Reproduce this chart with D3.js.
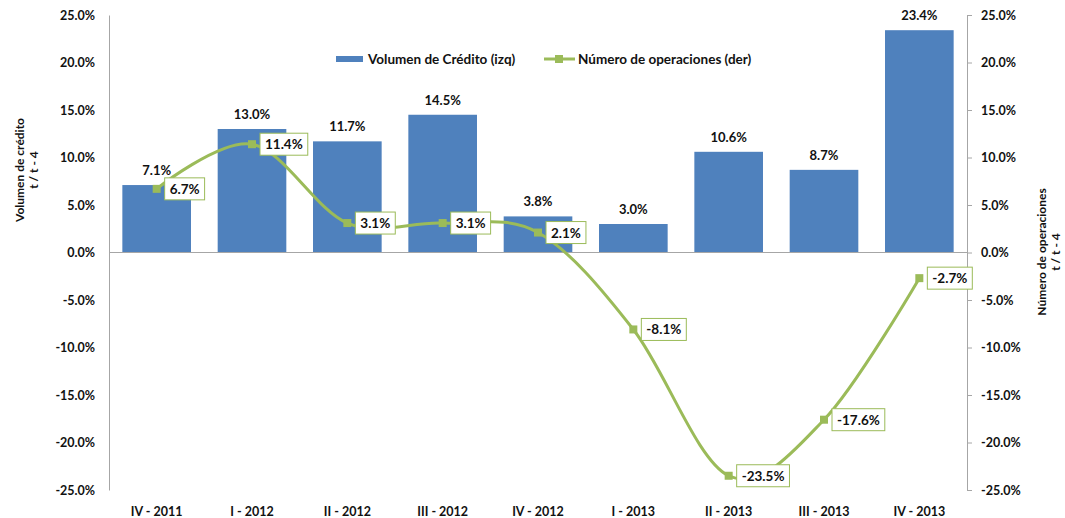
<!DOCTYPE html>
<html>
<head>
<meta charset="utf-8">
<script src="https://cdn.jsdelivr.net/npm/d3@7"></script>
<style>
  body { margin: 0; background: #fff; }
  svg text { font-family: Lato, "Open Sans", sans-serif; font-weight: bold; fill: #111; }
</style>
</head>
<body>
<svg id="chart" width="1065" height="518"></svg>
<script>
const categories = ['IV - 2011', 'I - 2012', 'II - 2012', 'III - 2012', 'IV - 2012', 'I - 2013', 'II - 2013', 'III - 2013', 'IV - 2013'];
const volumen = [7.1, 13.0, 11.7, 14.5, 3.8, 3.0, 10.6, 8.7, 23.4];
const operaciones = [6.7, 11.4, 3.1, 3.1, 2.1, -8.1, -23.5, -17.6, -2.7];
const yTicks = [25, 20, 15, 10, 5, 0, -5, -10, -15, -20, -25];

const svg = d3.select('#chart');
const plotLeft = 109, plotRight = 967, plotTop = 15, plotBottom = 490;

const x = d3.scaleBand().domain(categories).range([plotLeft, plotRight]).paddingInner(0.28).paddingOuter(0.14);
const yL = d3.scaleLinear().domain([-25, 25]).range([plotBottom, plotTop]);
const yR = d3.scaleLinear().domain([-25, 25]).range([plotBottom, plotTop]);
const fmt = d => d.toFixed(1) + '%';
const cx = d => x(d) + x.bandwidth() / 2;

// bars
svg.selectAll('.bar')
  .data(volumen)
  .enter().append('rect')
  .attr('x', (d, i) => x(categories[i]))
  .attr('width', x.bandwidth())
  .attr('y', d => yL(Math.max(0, d)))
  .attr('height', d => Math.abs(yL(d) - yL(0)))
  .attr('fill', '#4f81bd');

// bar labels
svg.selectAll('.barlabel')
  .data(volumen)
  .enter().append('text')
  .attr('x', (d, i) => cx(categories[i]))
  .attr('y', d => yL(d) - 10)
  .attr('text-anchor', 'middle')
  .style('font-size', '13px')
  .text(fmt);

// axes
const axisColor = '#a6a6a6';
const gL = svg.append('g').attr('transform', `translate(${plotLeft},0)`)
  .call(d3.axisLeft(yL).tickValues(yTicks).tickSize(0).tickPadding(14).tickFormat(fmt));
const gR = svg.append('g').attr('transform', `translate(${plotRight},0)`)
  .call(d3.axisRight(yR).tickValues(yTicks).tickSize(5).tickPadding(9).tickFormat(fmt));
[gL, gR].forEach(g => {
  g.select('.domain').attr('stroke', axisColor);
  g.selectAll('.tick line').attr('stroke', axisColor);
  g.selectAll('.tick text').style('font-size', '12.5px').attr('fill', '#111');
});

// zero line
svg.append('line')
  .attr('x1', plotLeft).attr('x2', plotRight)
  .attr('y1', yL(0)).attr('y2', yL(0))
  .attr('stroke', axisColor);

// category labels
svg.selectAll('.cat')
  .data(categories)
  .enter().append('text')
  .attr('x', d => cx(d))
  .attr('y', 516)
  .attr('text-anchor', 'middle')
  .style('font-size', '12.5px')
  .text(d => d);

// line
const green = '#9bbb59';
const line = d3.line()
  .x((d, i) => cx(categories[i]))
  .y(d => yR(d))
  .curve(d3.curveCardinal.tension(0));
svg.append('path')
  .datum(operaciones)
  .attr('d', line)
  .attr('fill', 'none')
  .attr('stroke', green)
  .attr('stroke-width', 3);

svg.selectAll('.marker')
  .data(operaciones)
  .enter().append('rect')
  .attr('x', (d, i) => cx(categories[i]) - 4)
  .attr('y', d => yR(d) - 4)
  .attr('width', 8).attr('height', 8)
  .attr('fill', green);

// line labels in boxes
const lbl = svg.selectAll('.linelabel')
  .data(operaciones)
  .enter().append('g')
  .attr('transform', (d, i) => `translate(${cx(categories[i]) + 8},${yR(d)})`);
lbl.append('text')
  .attr('x', 5)
  .attr('y', 5)
  .style('font-size', '13.5px')
  .text(fmt);
lbl.each(function() {
  const g = d3.select(this);
  const w = g.select('text').node().getComputedTextLength();
  g.insert('rect', 'text')
    .attr('x', 0).attr('y', -11)
    .attr('width', w + 10).attr('height', 22)
    .attr('fill', '#fff')
    .attr('stroke', green)
    .attr('stroke-width', 1);
});

// axis titles
svg.append('text')
  .attr('transform', 'translate(24,170) rotate(-90)')
  .attr('text-anchor', 'middle')
  .style('font-size', '12px')
  .selectAll('tspan')
  .data(['Volumen de crédito', 't / t - 4'])
  .enter().append('tspan')
  .attr('x', 0).attr('dy', (d, i) => i ? 14 : 0)
  .text(d => d);

svg.append('text')
  .attr('transform', 'translate(1046,252) rotate(-90)')
  .attr('text-anchor', 'middle')
  .style('font-size', '12px')
  .selectAll('tspan')
  .data(['Número de operaciones', 't / t - 4'])
  .enter().append('tspan')
  .attr('x', 0).attr('dy', (d, i) => i ? 14 : 0)
  .text(d => d);

// legend
const leg = svg.append('g').attr('transform', 'translate(336,59)');
leg.append('rect').attr('x', 0).attr('y', -3).attr('width', 27).attr('height', 6).attr('fill', '#4f81bd');
leg.append('text').attr('x', 32).attr('y', 5).style('font-size', '13.5px').text('Volumen de Crédito (izq)');
leg.append('line').attr('x1', 208).attr('x2', 239).attr('y1', 0).attr('y2', 0).attr('stroke', green).attr('stroke-width', 3);
leg.append('rect').attr('x', 219).attr('y', -4).attr('width', 8).attr('height', 8).attr('fill', green);
leg.append('text').attr('x', 242).attr('y', 5).style('font-size', '13.5px').text('Número de operaciones  (der)');
</script>
</body>
</html>
